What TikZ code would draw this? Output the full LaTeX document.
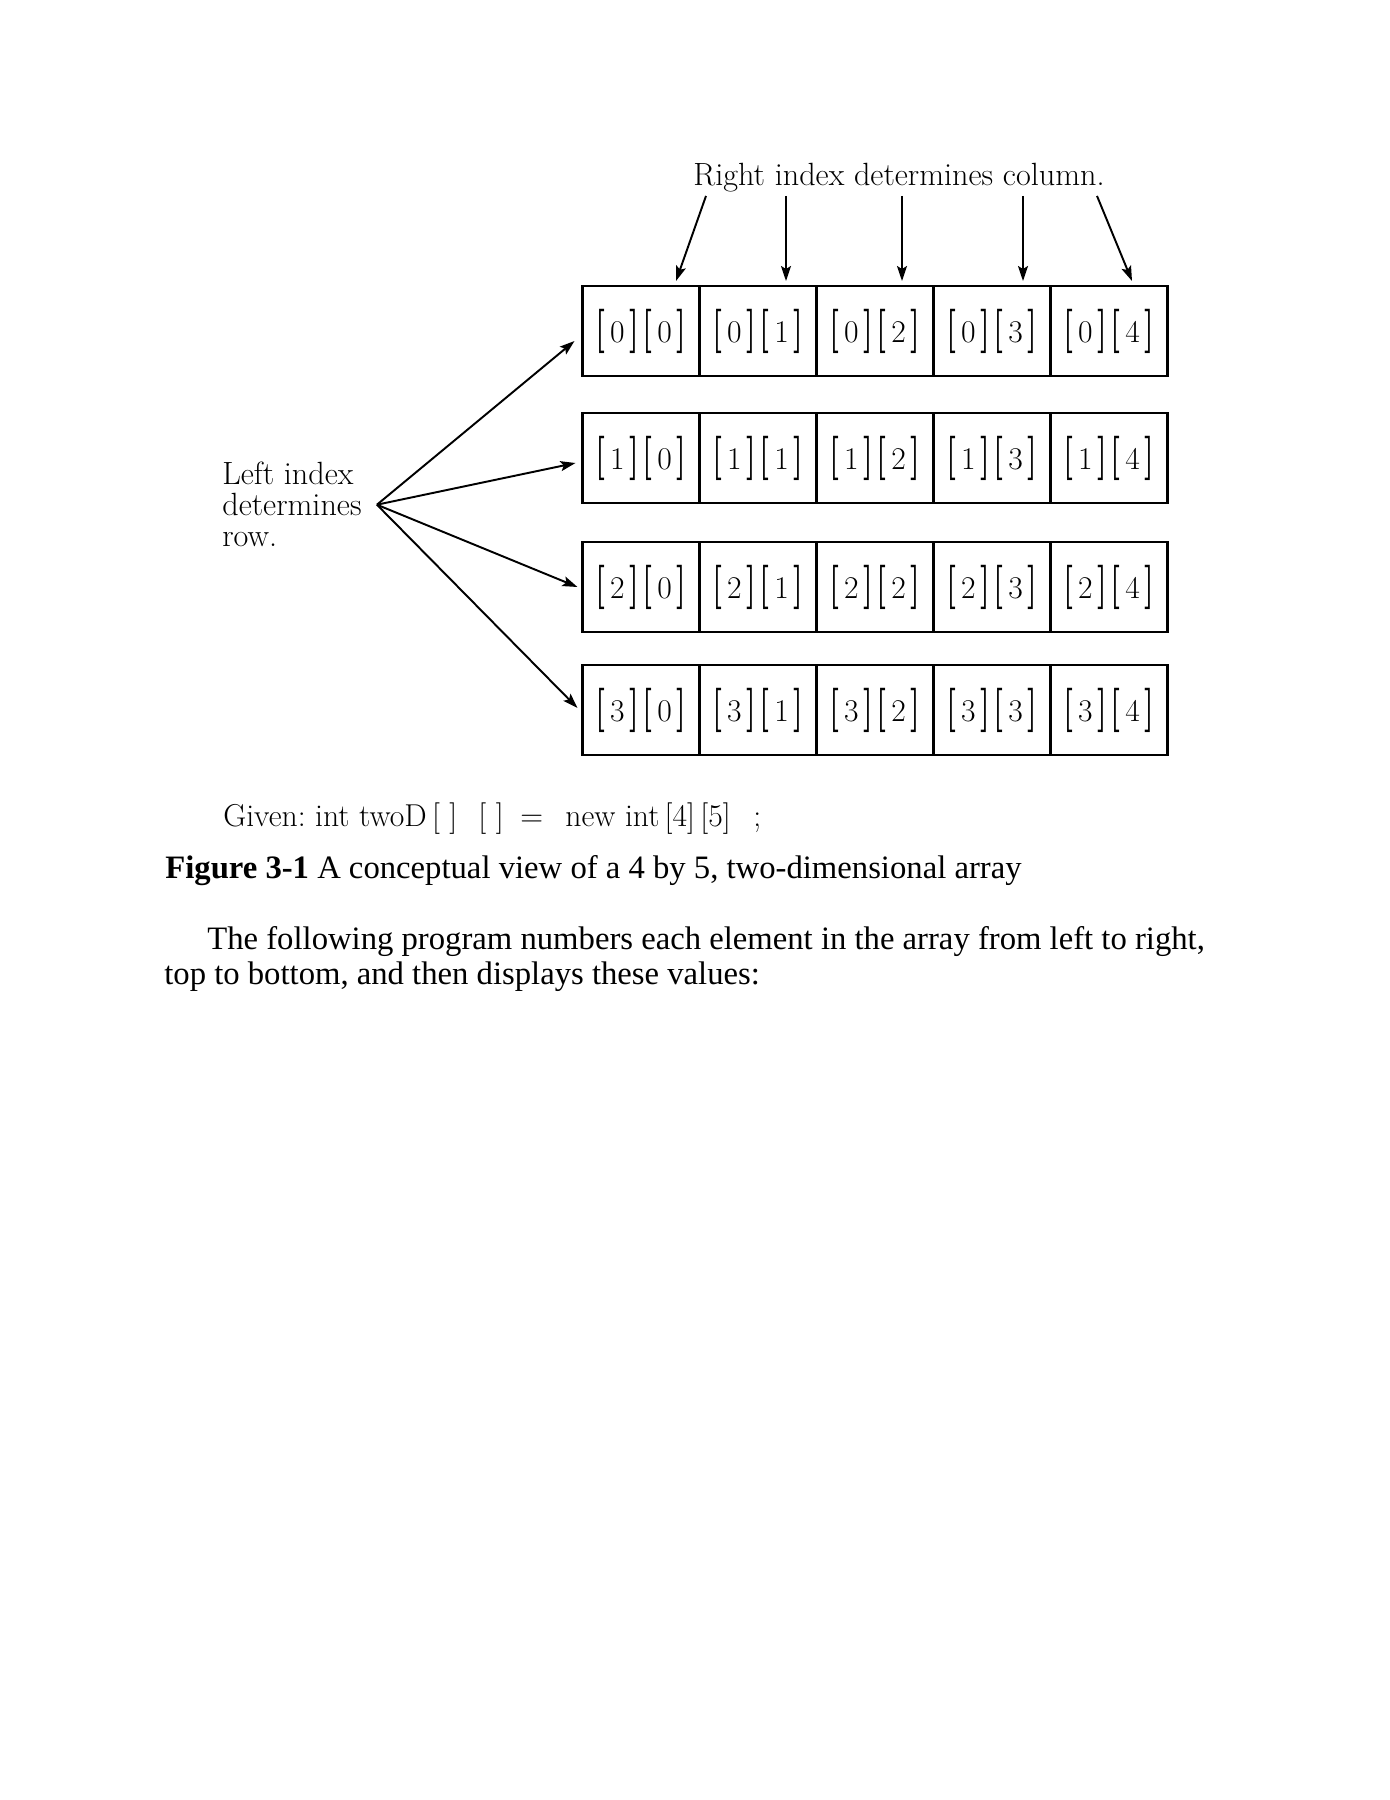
\documentclass[tikz,border=0pt]{standalone}
\usepackage{graphicx}
\usepackage{fontspec}
\newfontfamily\timesfont{Liberation Serif}
\usepackage{tikz}
\usetikzlibrary{arrows.meta,calc,positioning}
\newcommand{\brk}[1]{\scalebox{1}[1.4]{\textbf{#1}}}
\newcommand{\idx}[1]{\brk{[}\hspace{1mm}#1\hspace{1mm}\brk{]}}
\tikzset{
    %Define standard arrow tip
    >={Stealth[length=3mm,width=2mm,inset=0.6mm]},
    %Define style for array cells
    cell/.style={
           rectangle,
           draw=black, line width=1.3pt,
           inner sep=0pt, outer sep=0pt,
           minimum width=23.4mm,
           minimum height=18mm,
           font=\fontsize{18}{20}\selectfont},
    %Define style for labels
    note/.style={
           inner sep=0pt,
           font=\fontsize{18.3}{17.6}\selectfont},
    %Define style for page text
    prose/.style={
           inner sep=0pt,
           font=\timesfont\fontsize{18.6}{19.9}\selectfont},
    % Define arrow style
    pointer/.style={
           ->,
           line width=1.1pt}
}
\begin{document}
\begin{tikzpicture}[x=0.2mm,y=-0.2mm]
\fill[white] (0,0) rectangle (1390,1800);
 %cells
\foreach \r/\y in {0/331,1/458,2/587,3/710}
  \foreach \c in {0,...,4}
    \node[cell] (\r\c) at (641+117*\c,\y) {\idx{\r}\hspace{0.6mm}\idx{\c}};
 %labels
\node[note, anchor=base] (col) at (899,185) {Right index determines column.};
\node[note, anchor=north west, align=left] (row) at (222,462) {Left index\\determines\\row.};
\coordinate[right=3mm of row.east] (fan);
 %arrows
\draw[pointer] ($(col.south)+(-193,4)$) -- ($(00.north)+(35,-5)$);
\draw[pointer] ($(col.south)+(-113,4)$) -- ($(01.north)+(28,-5)$);
\draw[pointer] ($(col.south)+(3,4)$) -- ($(02.north)+(27,-5)$);
\draw[pointer] ($(col.south)+(124,4)$) -- ($(03.north)+(31,-5)$);
\draw[pointer] ($(col.south)+(198,4)$) -- ($(04.north)+(23,-5)$);
\draw[pointer] (fan) -- ($(00.west)+(-8,10)$);
\draw[pointer] (fan) -- ($(10.west)+(-7,5)$);
\draw[pointer] (fan) -- ($(20.west)+(-5,0)$);
\draw[pointer] (fan) -- ($(30.west)+(-5,-2)$);
 %text below
\node[anchor=base west, inner sep=0pt, font=\fontsize{18}{20}\selectfont\frenchspacing] (given) at (223,826)
    {\makebox[51mm][l]{Given: int twoD\,[\ ]}\makebox[8.4mm][l]{[\ ]}\makebox[9mm][l]{=}\makebox[37.6mm][l]{new int\,[4]\,[5]};};
\node[prose, anchor=base west] (caption) at (165,878)
    {\textbf{Figure 3-1} A conceptual view of a 4 by 5, two-dimensional array};
\node[prose, anchor=north west, align=left] (para) at (164,926)
    {\hspace*{8.6mm}The following program numbers each element in the array from left to right,\\
     top to bottom, and then displays these values:};
\end{tikzpicture}
\end{document}
